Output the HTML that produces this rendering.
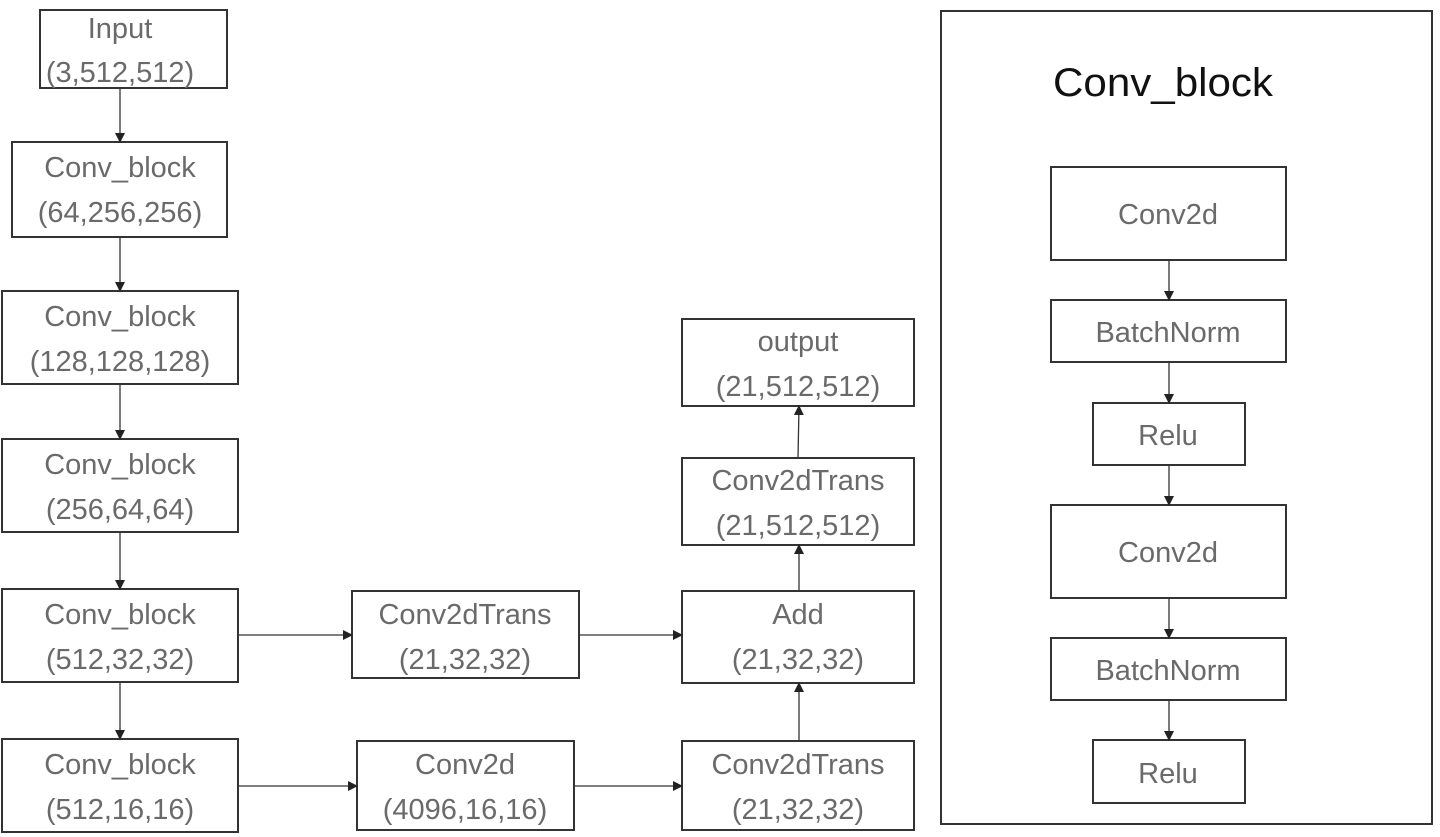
<!DOCTYPE html>
<html><head><meta charset="utf-8"><style>
html,body{margin:0;padding:0;background:#fff;}
svg{display:block;}
text{font-family:"Liberation Sans",sans-serif;fill:#6a6a6a;font-size:29px;text-anchor:middle;}
</style></head><body>
<svg width="1440" height="837" viewBox="0 0 1440 837" xmlns="http://www.w3.org/2000/svg">
<defs><marker id="a" markerWidth="10" markerHeight="10" refX="9" refY="5" orient="auto" markerUnits="userSpaceOnUse"><path d="M0,0 L10,5 L0,10 z" fill="#222"/></marker></defs>
<g fill="none" stroke="#333" stroke-width="2">
<rect x="40" y="10" width="187" height="78"/>
<rect x="12" y="142" width="215" height="95"/>
<rect x="2" y="291" width="236" height="93"/>
<rect x="2" y="439" width="236" height="93"/>
<rect x="2" y="589" width="236" height="93"/>
<rect x="2" y="739" width="236" height="93"/>
<rect x="352" y="591" width="227" height="87"/>
<rect x="357" y="741" width="217" height="89"/>
<rect x="682" y="741" width="232" height="89"/>
<rect x="682" y="591" width="232" height="92"/>
<rect x="682" y="458" width="232" height="87"/>
<rect x="682" y="319" width="232" height="87"/>
<rect x="941" y="11" width="491" height="813"/>
<rect x="1051" y="167" width="235" height="93"/>
<rect x="1051" y="300" width="235" height="62"/>
<rect x="1093" y="403" width="152" height="62"/>
<rect x="1051" y="505" width="235" height="93"/>
<rect x="1051" y="638" width="235" height="62"/>
<rect x="1093" y="740" width="152" height="63"/>
</g>
<g stroke="#333" stroke-width="1.3" marker-end="url(#a)">
<line x1="120" y1="88" x2="120" y2="142"/>
<line x1="120" y1="237" x2="120" y2="291"/>
<line x1="120" y1="384" x2="120" y2="439"/>
<line x1="120" y1="532" x2="120" y2="589"/>
<line x1="120" y1="682" x2="120" y2="739"/>
<line x1="238" y1="635" x2="352" y2="635"/>
<line x1="238" y1="786" x2="357" y2="786"/>
<line x1="579" y1="635" x2="682" y2="635"/>
<line x1="574" y1="786" x2="682" y2="786"/>
<line x1="799" y1="741" x2="799" y2="683"/>
<line x1="799" y1="591" x2="799" y2="545"/>
<line x1="798" y1="458" x2="799" y2="406"/>
<line x1="1169" y1="260" x2="1169" y2="300"/>
<line x1="1169" y1="362" x2="1169" y2="403"/>
<line x1="1169" y1="465" x2="1169" y2="505"/>
<line x1="1169" y1="598" x2="1169" y2="638"/>
<line x1="1169" y1="700" x2="1169" y2="740"/>
</g>
<text x="120" y="38">Input</text><text x="120" y="82">(3,512,512)</text>
<text x="120" y="177">Conv_block</text><text x="120" y="222">(64,256,256)</text>
<text x="120" y="326">Conv_block</text><text x="120" y="371">(128,128,128)</text>
<text x="120" y="474">Conv_block</text><text x="120" y="519">(256,64,64)</text>
<text x="120" y="624">Conv_block</text><text x="120" y="669">(512,32,32)</text>
<text x="120" y="774">Conv_block</text><text x="120" y="819">(512,16,16)</text>
<text x="465" y="624">Conv2dTrans</text><text x="465" y="669">(21,32,32)</text>
<text x="465" y="774">Conv2d</text><text x="465" y="819">(4096,16,16)</text>
<text x="798" y="774">Conv2dTrans</text><text x="798" y="819">(21,32,32)</text>
<text x="798" y="624">Add</text><text x="798" y="669">(21,32,32)</text>
<text x="798" y="490">Conv2dTrans</text><text x="798" y="535">(21,512,512)</text>
<text x="798" y="351">output</text><text x="798" y="396">(21,512,512)</text>
<text x="1163" y="96" style="fill:#111;font-size:40px" textLength="220" lengthAdjust="spacingAndGlyphs">Conv_block</text>
<text x="1168" y="224">Conv2d</text>
<text x="1168" y="342">BatchNorm</text>
<text x="1168" y="445">Relu</text>
<text x="1168" y="562">Conv2d</text>
<text x="1168" y="680">BatchNorm</text>
<text x="1168" y="783">Relu</text>
</svg>
</body></html>
